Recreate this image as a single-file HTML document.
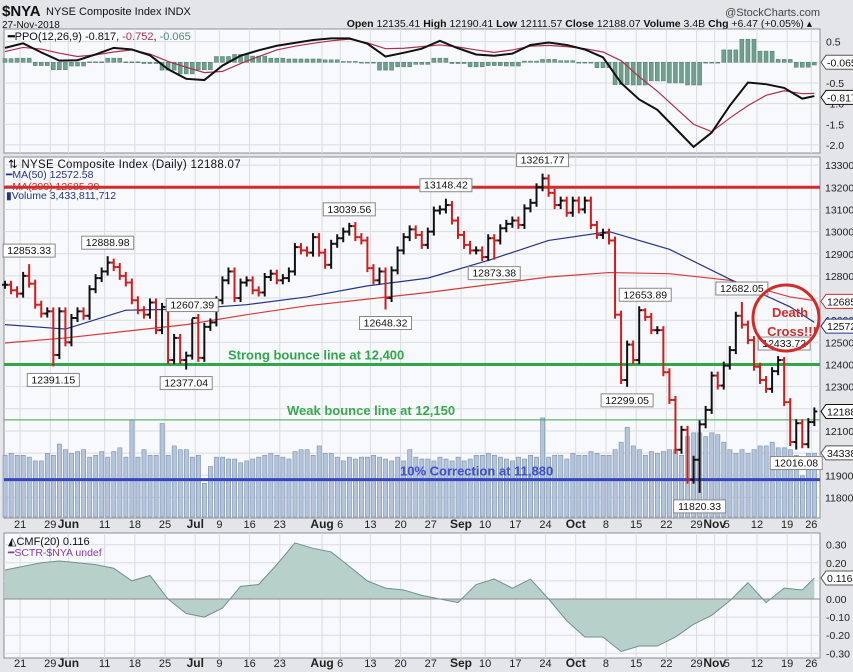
<!DOCTYPE html>
<html><head><meta charset="utf-8"><style>
html,body{margin:0;padding:0;background:#e4e5e9;}
svg{display:block;font-family:"Liberation Sans",sans-serif;}
</style></head><body>
<svg id="c" width="853" height="672" viewBox="0 0 853 672">
<rect x="0" y="0" width="853" height="672" fill="#e4e5e9"/>
<text x="2" y="16" font-size="15" font-weight="bold" fill="#111">$NYA</text>
<text x="46" y="15" font-size="11" fill="#111">NYSE Composite Index  INDX</text>
<text x="2" y="28" font-size="10" fill="#111">27-Nov-2018</text>
<text x="820" y="16" font-size="11" fill="#444" text-anchor="end">@StockCharts.com</text>
<text x="812" y="27" font-size="10.5" fill="#111" text-anchor="end"><tspan font-weight="bold">Open</tspan> 12135.41 <tspan font-weight="bold">High</tspan> 12190.41 <tspan font-weight="bold">Low</tspan> 12111.57 <tspan font-weight="bold">Close</tspan> 12188.07 <tspan font-weight="bold">Volume</tspan> 3.4B <tspan font-weight="bold">Chg</tspan> +6.47 (+0.05%) ▴</text>
<g id="g"></g>
</svg>
<script>
const closes=[12760,12735,12720,12800,12765,12670,12630,12640,12443,12640,12500,12610,12640,12620,12740,12790,12820,12860,12840,12800,12770,12690,12645,12625,12680,12555,12660,12420,12520,12420,12440,12610,12430,12570,12590,12690,12780,12820,12700,12770,12780,12735,12725,12795,12810,12780,12790,
12820,12930,12915,12905,12975,12905,12850,12945,12970,13000,13025,12975,12960,12835,12780,12820,12700,12825,12915,12975,13010,12985,12940,13000,13095,13100,13120,13050,12985,12940,12915,12915,12885,12970,12960,13015,13035,13050,13030,13105,13130,13200,13240,
13175,13120,13140,13085,13140,13100,13140,13030,12985,12995,12960,12625,12330,12490,12420,12645,12615,12555,12555,12365,12240,12015,12105,11880,11970,12130,12195,12350,12305,12395,12465,12620,12580,12510,12390,12330,12290,12370,12420,12230,12050,12135,12040,12140,12188];
const volumes=[3.3,3.4,3.3,3.3,3.2,3.0,3.0,3.4,3.3,3.9,3.6,3.4,3.5,3.6,3.2,3.3,3.5,3.2,3.5,3.7,3.2,5.2,3.2,3.6,3.3,3.3,5.0,3.3,3.8,3.6,3.6,3.2,3.3,1.8,2.7,3.2,3.2,3.1,3.1,2.9,3.0,3.1,3.2,3.3,3.4,3.3,3.2,3.1,3.5,3.6,3.6,3.3,3.8,3.4,3.4,3.2,3.0,3.2,3.1,3.2,3.2,3.3,3.2,3.1,3.0,3.2,3.0,3.6,3.2,3.1,3.1,3.0,3.2,3.1,3.0,3.2,3.0,3.1,3.3,3.3,3.4,3.3,3.2,3.1,3.0,3.2,3.1,3.3,3.2,5.3,3.2,3.3,3.3,3.1,3.4,3.3,3.3,3.5,3.4,3.3,3.3,3.6,4.0,4.8,3.8,3.6,3.3,3.5,3.4,3.5,3.6,3.6,3.3,4.3,4.5,4.5,4.3,4.5,4.4,4.0,3.6,3.4,3.6,3.4,3.6,3.8,3.8,4.0,3.7,3.7,3.6,3.3,2.2,3.4,3.4];
const maIdx=[0,10,20,30,40,50,60,70,80,90,100,110,120,130,134];
const ma50=[12580,12560,12645,12650,12670,12705,12755,12790,12870,12960,13000,12920,12785,12660,12590];
const ma200=[12497,12520,12550,12580,12625,12665,12695,12725,12760,12795,12815,12810,12780,12705,12688];
const ppo=[0.35,0.46,0.24,0.04,0.05,0.19,0.35,0.31,0.17,-0.17,-0.40,-0.43,-0.08,0.16,0.29,0.40,0.47,0.54,0.58,0.58,0.45,0.14,0.23,0.33,0.52,0.34,0.19,0.16,0.21,0.42,0.48,0.42,0.31,0.12,-0.50,-0.90,-1.15,-1.60,-2.05,-1.70,-1.05,-0.49,-0.53,-0.62,-0.88,-0.817];
const ppoSignal=[0.26,0.36,0.32,0.22,0.14,0.18,0.25,0.30,0.20,0.02,-0.12,-0.25,-0.22,-0.03,0.14,0.30,0.39,0.46,0.52,0.56,0.47,0.33,0.34,0.38,0.42,0.37,0.30,0.24,0.30,0.39,0.41,0.38,0.33,0.25,0.04,-0.35,-0.70,-1.10,-1.50,-1.68,-1.35,-1.05,-0.80,-0.69,-0.76,-0.752];
const cmf=[0.16,0.18,0.20,0.21,0.20,0.19,0.17,0.10,0.13,0.00,-0.08,-0.10,-0.05,0.07,0.08,0.19,0.31,0.28,0.26,0.18,0.10,0.06,0.05,0.02,0.00,-0.02,0.08,0.11,0.06,0.11,0.00,-0.12,-0.21,-0.21,-0.29,-0.26,-0.26,-0.21,-0.14,-0.09,-0.01,0.09,-0.02,0.06,0.05,0.116];
const annIdx=[4,8,17,30,31,57,63,73,81,89,103,106,115,122,129,131];
const annVal=[12853.33,12391.15,12888.98,12377.04,12607.39,13039.56,12648.32,13148.42,12873.38,13261.77,12299.05,12653.89,11820.33,12682.05,12433.72,12016.08];
const annHigh=[true,false,true,false,true,true,false,true,false,true,false,true,false,true,true,false];
const priceTicks=[13300,13200,13100,13000,12900,12800,12700,12600,12500,12400,12300,12200,12100,12000,11900,11800];
const ppoTicks=[0.5,-0.5,-1.0,-1.5,-2.0];
const cmfTicks=[0.3,0.2,0.1,0,-0.1,-0.2,-0.3];
const dateTicks=[['2018-05-21','21'],['2018-05-29','29'],['2018-06-01','Jun'],['2018-06-11','11'],['2018-06-18','18'],['2018-06-25','25'],['2018-07-02','Jul'],['2018-07-09','9'],['2018-07-16','16'],['2018-07-23','23'],['2018-08-01','Aug'],['2018-08-06','6'],['2018-08-13','13'],['2018-08-20','20'],['2018-08-27','27'],['2018-09-04','Sep'],['2018-09-10','10'],['2018-09-17','17'],['2018-09-24','24'],['2018-10-01','Oct'],['2018-10-08','8'],['2018-10-15','15'],['2018-10-22','22'],['2018-10-29','29'],['2018-11-01','Nov'],['2018-11-05','5'],['2018-11-12','12'],['2018-11-19','19'],['2018-11-26','26']];
const hLines=[[13200,'#d42a2a',3],[12400,'#2fa84a',3],[12150,'#39a84f',1],[11880,'#3545c0',3]];

const NS='http://www.w3.org/2000/svg';
const G=document.getElementById('g');
function el(t,a,p){const e=document.createElementNS(NS,t);for(const k in a)e.setAttribute(k,a[k]);(p||G).appendChild(e);return e;}
const X0=5,STEP=6.04,L=4,R=820;
const xI=i=>X0+i*STEP;
const yP=p=>364.5+(12400-p)*0.2215;
const yV=v=>517-v*18.7;
const yO=v=>62.3-v*41.3;
const yC=v=>599-v*181;
const sIdx=k=>Math.min(3*k,closes.length-1);
const hol=['2018-05-28','2018-07-04','2018-09-03','2018-11-22'];
const days=[];{let d=new Date(Date.UTC(2018,4,17));while(days.length<closes.length){const w=d.getUTCDay();const s=d.toISOString().slice(0,10);if(w>0&&w<6&&hol.indexOf(s)<0)days.push(s);d=new Date(d.getTime()+864e5);}}
const tickX=s=>{let i=days.indexOf(s);if(i<0)i=days.findIndex(d=>d>s);return xI(i)+3;};

function panel(name,y0,y1){
  const r=el('rect',{x:L,y:y0,width:R-L,height:y1-y0,fill:'#f8f9fc',stroke:'#8a8d95','stroke-width':1});
  
  
  dateTicks.forEach(t=>{const x=tickX(t[0]);const l=el('line',{x1:x,x2:x,y1:y0,y2:y1,stroke:'#d9dce4','stroke-width':1});
    
    });
}
function xAxis(y,name){
  dateTicks.forEach(t=>{const x=tickX(t[0]);const isM=isNaN(+t[1]);const tx=el('text',{x:x,y:y,'font-size':isM?12:11,'font-weight':isM?'bold':'normal','text-anchor':'middle',fill:'#222'});tx.textContent=t[1];
    
    });
}
function box(x,y,txt,col,name){
  const w=txt.length*6+6;
  const b=el('path',{d:`M${x} ${y} l5 -7 h${w} v14 h-${w} z`,fill:'#fff',stroke:col,'stroke-width':1});
  
  
  const t=el('text',{x:x+6,y:y+4,'font-size':10.5,fill:'#111'});t.textContent=txt;
  
  
}

panel('ppo-panel',29,153);
ppoTicks.concat([0]).forEach(v=>{const l=el('line',{x1:L,x2:R,y1:yO(v),y2:yO(v),stroke:'#d9dce4'});
  
  });
ppoTicks.forEach(v=>{const t=el('text',{x:826,y:yO(v)+4,'font-size':10.5,fill:'#222'});t.textContent=v.toFixed(1);
  
  });
ppo.forEach((v,k)=>{const h=v-ppoSignal[k];const y0=yO(0),y1=yO(h);
  for(let j=-1;j<=1;j++){const x=xI(sIdx(k))+j*STEP;if(x<L+1||x>R-3)continue;
    const b=el('rect',{x:x-2,y:Math.min(y0,y1),width:4,height:Math.max(0.8,Math.abs(y1-y0)),fill:'#70a08e',stroke:'#4d7a69','stroke-width':0.5});
    
    }
});
{const ps=el('polyline',{points:ppoSignal.map((v,k)=>xI(sIdx(k))+','+yO(v)).join(' '),fill:'none',stroke:'#b0304a','stroke-width':1.2});
 
 
 const pl=el('polyline',{points:ppo.map((v,k)=>xI(sIdx(k))+','+yO(v)).join(' '),fill:'none',stroke:'#111','stroke-width':2});
 
 }
{const t=el('text',{x:8,y:40,'font-size':11,fill:'#111'});t.innerHTML='<tspan font-weight="bold">━</tspan>PPO(12,26,9) -0.817, <tspan fill="#b0304a">-0.752</tspan>, <tspan fill="#4d8a70">-0.065</tspan>';
 
 }
box(821,yO(0),'-0.065','#555','ppo-hist-value');
box(821,yO(-0.85),'-0.817','#111','ppo-value');

panel('price-panel',157,518);
priceTicks.forEach(p=>{const l=el('line',{x1:L,x2:R,y1:yP(p),y2:yP(p),stroke:'#d9dce4'});
  
  
  const t=el('text',{x:825,y:yP(p)+4,'font-size':10.5,fill:'#222'});t.textContent=p;
  
  });
volumes.forEach((v,i)=>{const b=el('rect',{x:xI(i)-2,y:yV(v),width:4.2,height:517-yV(v),fill:'#b4c4da',stroke:'#7a90ae','stroke-width':0.6});
  
  });
{const m2=el('polyline',{points:ma200.map((v,k)=>xI(maIdx[k])+','+yP(v)).join(' '),fill:'none',stroke:'#d43c3c','stroke-width':1.2});
 
 
 const m1=el('polyline',{points:ma50.map((v,k)=>xI(maIdx[k])+','+yP(v)).join(' '),fill:'none',stroke:'#26338a','stroke-width':1.2});
 
 }
hLines.forEach(h=>{const l=el('line',{x1:L,x2:R,y1:yP(h[0]),y2:yP(h[0]),stroke:h[1],'stroke-width':h[2]});
  
  });
closes.forEach((c,i)=>{const o=i?closes[i-1]:c;let hi=Math.max(o,c)+18,lo=Math.min(o,c)-18;
  const a=annIdx.indexOf(i);if(a>=0){if(annHigh[a])hi=annVal[a];else lo=annVal[a];}
  const col=(i&&c<closes[i-1])?'#d21c1c':'#111';const x=xI(i);
  const g=el('g',{stroke:col,'stroke-width':2});
  
  
  el('line',{x1:x,x2:x,y1:yP(hi),y2:yP(lo)},g);
  el('line',{x1:x-3,x2:x,y1:yP(o),y2:yP(o)},g);
  el('line',{x1:x,x2:x+3,y1:yP(c),y2:yP(c)},g);
});
annVal.forEach((v,k)=>{const x=xI(annIdx[k]);const txt=v.toFixed(2);const w=txt.length*6+4;const y=annHigh[k]?yP(v)-20:yP(v)+7;
  const r=el('rect',{x:x-w/2,y:y,width:w,height:13,fill:'#fff',stroke:'#888'});
  
  
  const t=el('text',{x:x,y:y+10,'font-size':10.5,'text-anchor':'middle',fill:'#111'});t.textContent=txt;
  
  });
[['Strong bounce line at 12,400',228,yP(12400)-5,'#2fa84a'],['Weak bounce line at 12,150',287,yP(12150)-5,'#39a84f'],['10% Correction at 11,880',400,yP(11880)-4,'#3f4fd0']].forEach(a=>{
  const t=el('text',{x:a[1],y:a[2],'font-size':13,'font-weight':'bold',fill:a[3]});t.textContent=a[0];
  
  });
{const c=el('circle',{cx:786,cy:318,r:33,fill:'none',stroke:'#d42a2a','stroke-width':3});
 
 
 const t1=el('text',{x:790,y:317,'font-size':13,'font-weight':'bold','text-anchor':'middle',fill:'#d42a2a'});t1.textContent='Death';
 
 
 const t2=el('text',{x:792,y:336,'font-size':13,'font-weight':'bold','text-anchor':'middle',fill:'#d42a2a'});t2.textContent='Cross!!!';
 
 }
{const t=el('text',{x:8,y:168,'font-size':11.5,fill:'#111','letter-spacing':'0.3'});t.textContent='⇅ NYSE Composite Index (Daily) 12188.07';
 
 
 const t2=el('text',{x:6,y:178,'font-size':10.5,fill:'#26338a'});t2.textContent='━MA(50) 12572.58';
 
 
 const t3=el('text',{x:6,y:190,'font-size':10.5,fill:'#d42a2a'});t3.textContent='━MA(200) 12685.39';
 
 
 const t4=el('text',{x:6,y:199,'font-size':10.5,fill:'#26338a'});t4.textContent='▮Volume 3,433,811,712';
 
 }
box(821,yP(12685),'12685','#d42a2a','ma200-value');
box(821,yP(12573),'12572','#26338a','ma50-value');
box(821,yP(12188),'12188','#111','close-value');
box(821,yV(3.43),'34338','#555','volume-value');
xAxis(528,'x-tick-main');

panel('cmf-panel',533,658);
cmfTicks.forEach(v=>{const l=el('line',{x1:L,x2:R,y1:yC(v),y2:yC(v),stroke:v===0?'#888':'#d9dce4'});
  
  
  const t=el('text',{x:826,y:yC(v)+4,'font-size':10.5,fill:'#222'});t.textContent=v.toFixed(2);
  
  });
{const pts=cmf.map((v,k)=>xI(sIdx(k))+','+yC(v));
 const a=el('polygon',{points:xI(0)+','+yC(0)+' '+pts.join(' ')+' '+xI(closes.length-1)+','+yC(0),fill:'#b7d0ca',stroke:'none'});
 
 
 const l=el('polyline',{points:pts.join(' '),fill:'none',stroke:'#6f918b','stroke-width':1});
 
 
 const z=el('line',{x1:L,x2:R,y1:yC(0),y2:yC(0),stroke:'#8a8a8a'});
 
 }
{const t=el('text',{x:8,y:545,'font-size':11,fill:'#111'});t.textContent='◭CMF(20) 0.116';
 
 
 const t2=el('text',{x:8,y:556,'font-size':10.5,fill:'#8a3ac0'});t2.textContent='━SCTR-$NYA undef';
 
 }
box(821,yC(0.116),'0.116','#555','cmf-value');
xAxis(667,'x-tick-bottom');
</script>
</body></html>
